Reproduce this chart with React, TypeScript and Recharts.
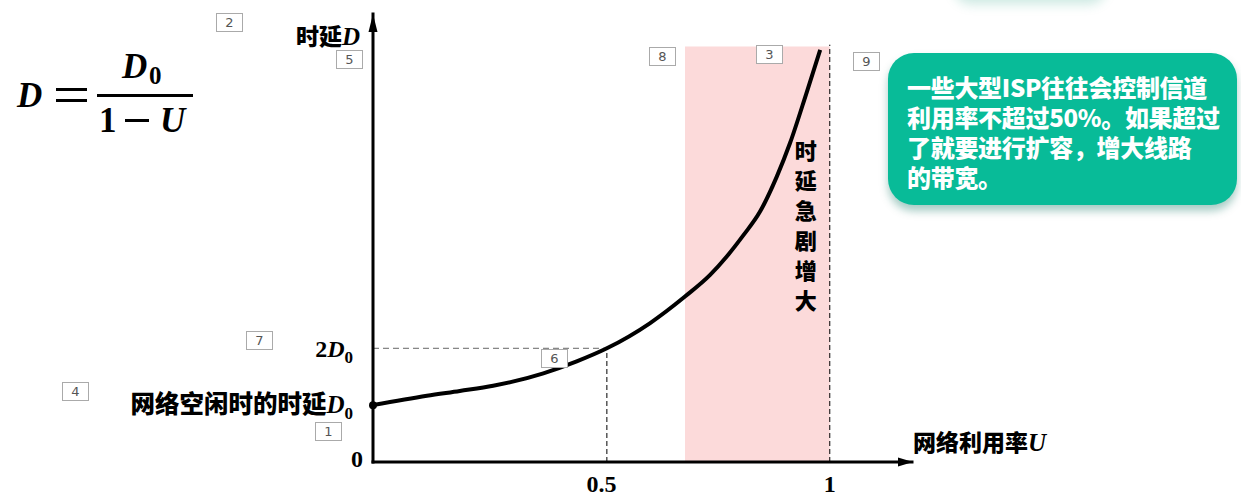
import { ComposedChart, Line, XAxis, YAxis, ReferenceArea, ReferenceLine, ReferenceDot } from "recharts";

// utilisation U and delay D (in units of D0)
const U_VALUES = [0, 0.118, 0.19, 0.263, 0.373, 0.446, 0.512, 0.606, 0.683, 0.738, 0.774, 0.811, 0.847, 0.884, 0.913, 0.949, 0.979];
const DELAY_VALUES = [1.0, 1.166, 1.25, 1.34, 1.56, 1.77, 2.0, 2.44, 2.91, 3.29, 3.61, 3.99, 4.4, 5.02, 5.61, 6.49, 7.25];

const X_TICKS = [0.5, 1];
const Y_TICKS = [0, 1, 2];
const X_MAX = 1.18;
const Y_MAX = 7.88;

const RAPID_ZONE = [0.683, 1];
const RAPID_TOP = 7.31;
const LIMIT_TOP = 7.34;
const HALF_POINT = { u: 0.512, d: 2 };

const X_TITLE = "网络利用率";
const Y_TITLE = "时延";
const IDLE_LABEL = "网络空闲时的时延";
const ZONE_TEXT = ["时", "延", "急", "剧", "增", "大"];
const NOTE_LINES = ["一些大型ISP往往会控制信道", "利用率不超过50%。如果超过", "了就要进行扩容，增大线路", "的带宽。"];

// little numbered markers sitting on top of the slide
const MARKERS = [
  { n: "1", left: 315, top: 422 },
  { n: "2", left: 216, top: 13 },
  { n: "3", left: 756, top: 45 },
  { n: "4", left: 62, top: 382 },
  { n: "5", left: 336, top: 50 },
  { n: "6", left: 541, top: 349 },
  { n: "7", left: 246, top: 331 },
  { n: "8", left: 649, top: 47 },
  { n: "9", left: 853, top: 52 },
];

const data = U_VALUES.map((u, i) => ({ u, d: DELAY_VALUES[i] }));

const CJK = '"Noto Sans CJK SC", "Noto Sans", sans-serif';
const MATH = '"Liberation Serif", "DejaVu Serif", serif';

function XTick(props: any) {
  const { x, y, payload } = props;
  return (
    <text x={x} y={y + 30} textAnchor="middle" fontFamily={MATH} fontWeight={700} fontSize={24} fill="#000">
      {payload.value}
    </text>
  );
}

function YTick(props: any) {
  const { x, y, payload } = props;
  const v = payload.value;
  if (v === 0) {
    return (
      <text x={x - 10} y={y + 5} textAnchor="end" fontFamily={MATH} fontWeight={700} fontSize={24} fill="#000">
        0
      </text>
    );
  }
  if (v === 1) {
    return (
      <text x={x - 20} y={y + 8} textAnchor="end" fill="#000">
        <tspan fontFamily={CJK} fontWeight={900} fontSize={24.5}>{IDLE_LABEL}</tspan>
        <tspan fontFamily={MATH} fontWeight={700} fontStyle="italic" fontSize={25}>D</tspan>
        <tspan fontFamily={MATH} fontWeight={700} fontSize={17} dy={6}>0</tspan>
      </text>
    );
  }
  return (
    <text x={x - 20} y={y + 9} textAnchor="end" fontWeight={700} fontFamily={MATH} fill="#000">
      <tspan fontSize={24}>2</tspan>
      <tspan fontStyle="italic" fontSize={24}>D</tspan>
      <tspan fontSize={17} dy={6}>0</tspan>
    </text>
  );
}

function ZoneLabel(props: any) {
  const vb = props.viewBox || { x: 0, y: 0, width: 0 };
  const cx = vb.x + vb.width - 24;
  return (
    <g>
      {ZONE_TEXT.map((c, i) => (
        <text key={i} x={cx} y={vb.y + 113 + i * 30} textAnchor="middle" fontFamily={CJK} fontWeight={900} fontSize={22} fill="#000">
          {c}
        </text>
      ))}
    </g>
  );
}

function YTitle(props: any) {
  const vb = props.viewBox;
  return (
    <text x={vb.x + vb.width - 13} y={vb.y + 31} textAnchor="end" fill="#000">
      <tspan fontFamily={CJK} fontWeight={900} fontSize={23}>{Y_TITLE}</tspan>
      <tspan fontFamily={MATH} fontWeight={700} fontStyle="italic" fontSize={25}>D</tspan>
    </text>
  );
}

function XTitle(props: any) {
  const vb = props.viewBox;
  return (
    <text x={vb.x + vb.width + 1} y={vb.y - 11} fill="#000">
      <tspan fontFamily={CJK} fontWeight={900} fontSize={23}>{X_TITLE}</tspan>
      <tspan fontFamily={MATH} fontWeight={700} fontStyle="italic" fontSize={25}>U</tspan>
    </text>
  );
}

const arrowRight = (p: any) => (
  <polygon points={`${p.cx + 1},${p.cy} ${p.cx - 14},${p.cy - 4.5} ${p.cx - 14},${p.cy + 4.5}`} fill="#000" />
);
const arrowUp = (p: any) => (
  <polygon points={`${p.cx},${p.cy} ${p.cx - 4.5},${p.cy + 18} ${p.cx + 4.5},${p.cy + 18}`} fill="#000" />
);

function Formula() {
  return (
    <svg width={220} height={150} style={{ position: "absolute", left: 0, top: 0 }}>
      <g fontFamily={MATH} fontWeight={700} fill="#000">
        <text x={17} y={107} fontSize={35} fontStyle="italic">D</text>
        <rect x={56} y={88} width={31} height={3} />
        <rect x={56} y={99} width={31} height={3} />
        <text x={122} y={78} fontSize={35} fontStyle="italic">D</text>
        <text x={149} y={84} fontSize={25}>0</text>
        <rect x={97} y={94} width={96} height={3} />
        <text x={99} y={132} fontSize={35}>1</text>
        <rect x={125} y={119} width={24} height={3} />
        <text x={160} y={132} fontSize={35} fontStyle="italic">U</text>
      </g>
    </svg>
  );
}

export default function App() {
  return (
    <div style={{ position: "absolute", left: 0, top: 0, width: 1241, height: 496, background: "#fff", overflow: "hidden" }}>
      <div
        style={{
          position: "absolute", left: 955, top: -30, width: 150, height: 30, borderRadius: 20,
          background: "#ffffff", boxShadow: "0 4px 12px rgba(20,150,120,0.22)",
        }}
      />
      <Formula />
      <ComposedChart width={1241} height={496} data={data} margin={{ top: 14, right: 329, bottom: 33, left: 372 }}>
        <ReferenceArea
          x1={RAPID_ZONE[0]} x2={RAPID_ZONE[1]} y1={0} y2={RAPID_TOP}
          fill="#fcdada" fillOpacity={1} stroke="none"
          label={(p: any) => <ZoneLabel {...p} />}
        />
        <ReferenceLine segment={[{ x: 0, y: HALF_POINT.d }, { x: HALF_POINT.u, y: HALF_POINT.d }]} stroke="#666" strokeWidth={1} strokeDasharray="6 4" />
        <ReferenceLine segment={[{ x: HALF_POINT.u, y: 0 }, { x: HALF_POINT.u, y: HALF_POINT.d }]} stroke="#000" strokeWidth={1} strokeDasharray="5 3" />
        <ReferenceLine segment={[{ x: RAPID_ZONE[1], y: 0 }, { x: RAPID_ZONE[1], y: LIMIT_TOP }]} stroke="#000" strokeWidth={1} strokeDasharray="5 3" />
        <XAxis
          dataKey="u" type="number" domain={[0, X_MAX]} ticks={X_TICKS} height={1}
          axisLine={{ stroke: "#000", strokeWidth: 3, strokeLinecap: "square" }}
          tickLine={false} tickSize={0} tickMargin={0} tick={(p: any) => <XTick {...p} />}
          label={(p: any) => <XTitle {...p} />}
          allowDataOverflow
        />
        <YAxis
          type="number" domain={[0, Y_MAX]} ticks={Y_TICKS} width={1}
          axisLine={{ stroke: "#000", strokeWidth: 3, strokeLinecap: "square" }}
          tickLine={false} tickSize={0} tickMargin={0} tick={(p: any) => <YTick {...p} />}
          label={(p: any) => <YTitle {...p} />}
          allowDataOverflow
        />
        <Line dataKey="d" type="monotone" stroke="#000" strokeWidth={4} dot={false} isAnimationActive={false} />
        <ReferenceDot x={0} y={DELAY_VALUES[0]} r={4} fill="#000" stroke="none" />
        <ReferenceDot x={X_MAX} y={0} shape={arrowRight} />
        <ReferenceDot x={0} y={Y_MAX} shape={arrowUp} />
      </ComposedChart>
      <div
        style={{
          position: "absolute", left: 888, top: 53, width: 349, height: 152, borderRadius: 26,
          background: "#08bb98", boxShadow: "0 6px 8px rgba(0,110,90,0.35)", boxSizing: "border-box",
          padding: "19px 0 0 19px", color: "#fff", fontFamily: CJK, fontWeight: 900, fontSize: 24, lineHeight: "30px",
          whiteSpace: "nowrap", letterSpacing: -0.3,
        }}
      >
        {NOTE_LINES.map((l, i) => (
          <div key={i}>{l}</div>
        ))}
      </div>
      {MARKERS.map((m) => (
        <div
          key={m.n}
          style={{
            position: "absolute", left: m.left, top: m.top, width: 27, height: 19, boxSizing: "border-box",
            border: "1px solid #aaa", background: "#fff", color: "#555", fontFamily: '"DejaVu Sans", sans-serif',
            fontSize: 13, lineHeight: "17px", textAlign: "center",
          }}
        >
          {m.n}
        </div>
      ))}
    </div>
  );
}
